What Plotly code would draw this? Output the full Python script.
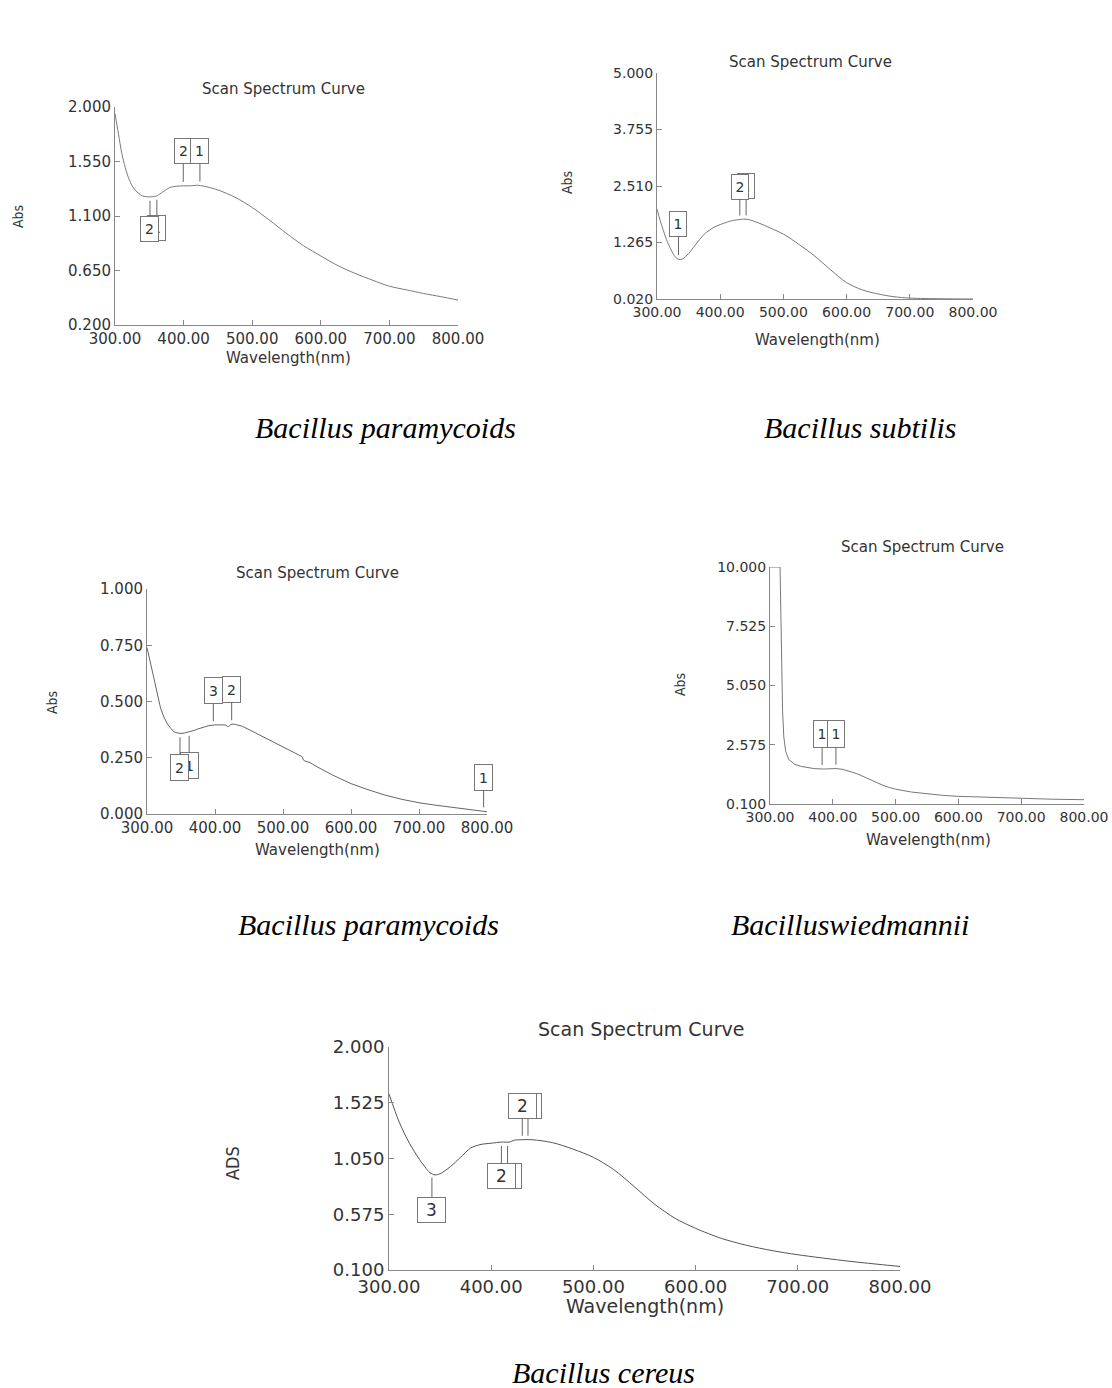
import numpy as np
import plotly.graph_objects as go

W, H = 1112, 1388

# ---------------- data ----------------
x_ticks = [300, 400, 500, 600, 700, 800]

# Panel 1 - Bacillus paramycoids (top-left)
p1_wl = [300, 305, 310, 315, 320, 325, 330, 340, 350, 360, 370, 380, 390, 400, 410, 420, 430, 450, 475,
         500, 525, 550, 575, 600, 625, 650, 675, 700, 725, 750, 775, 800]
p1_abs = [1.945, 1.78, 1.615, 1.50, 1.41, 1.35, 1.31, 1.266, 1.258, 1.264, 1.30, 1.335, 1.346, 1.349,
          1.349, 1.354, 1.346, 1.315, 1.255, 1.17, 1.066, 0.956, 0.854, 0.77, 0.69, 0.626, 0.571, 0.52,
          0.49, 0.46, 0.434, 0.406]
p1_yticks = [0.200, 0.650, 1.100, 1.550, 2.000]
p1_peak_wl = [399.5, 423.8, 361, 351]
p1_peak_lbl = ["2", "1", "1", "2"]

# Panel 2 - Bacillus subtilis
p2_wl = [300, 305, 310, 315, 320, 325, 330, 335, 340, 350, 360, 375, 390, 400, 410, 420, 430, 437, 445,
         460, 480, 500, 525, 550, 575, 600, 625, 650, 675, 700, 750, 800]
p2_abs = [2.00, 1.75, 1.53, 1.33, 1.17, 1.03, 0.93, 0.89, 0.90, 1.02, 1.20, 1.45, 1.60, 1.66, 1.71, 1.75,
          1.77, 1.78, 1.77, 1.70, 1.58, 1.45, 1.22, 0.96, 0.66, 0.38, 0.22, 0.13, 0.07, 0.04, 0.025, 0.02]
p2_yticks = [0.020, 1.265, 2.510, 3.755, 5.000]
p2_peak_wl = [334, 441, 431]
p2_peak_lbl = ["1", "1", "2"]

# Panel 3 - Bacillus paramycoids (middle-left)
p3_wl = [300, 305, 310, 315, 320, 325, 330, 335, 340, 345, 350, 355, 360, 365, 370, 375, 380, 390, 400,
         410, 415, 418, 420, 422, 425, 430, 440, 450, 460, 470, 480, 490, 500, 510, 520, 528, 530, 532,
         540, 550, 575, 600, 625, 650, 675, 700, 725, 750, 775, 800]
p3_abs = [0.74, 0.67, 0.61, 0.54, 0.47, 0.43, 0.40, 0.38, 0.365, 0.36, 0.358, 0.36, 0.363, 0.368, 0.372,
          0.378, 0.383, 0.392, 0.396, 0.397, 0.396, 0.39, 0.388, 0.395, 0.40, 0.398, 0.39, 0.375, 0.36,
          0.345, 0.33, 0.315, 0.30, 0.285, 0.27, 0.255, 0.24, 0.236, 0.228, 0.21, 0.17, 0.135, 0.108,
          0.084, 0.065, 0.05, 0.039, 0.03, 0.02, 0.01]
p3_yticks = [0.000, 0.250, 0.500, 0.750, 1.000]
p3_peak_wl = [397.5, 424.5, 362, 348.5, 795]
p3_peak_lbl = ["3", "2", "1", "2", "1"]

# Panel 4 - Bacilluswiedmannii
p4_wl = [300, 305, 310, 316, 318, 320, 322, 325, 330, 340, 350, 360, 370, 385, 395, 405, 415, 420, 430,
         440, 450, 460, 470, 480, 490, 500, 525, 550, 575, 600, 650, 700, 750, 800]
p4_abs = [10.0, 10.0, 10.0, 10.0, 7.0, 4.0, 2.9, 2.3, 1.95, 1.75, 1.67, 1.62, 1.58, 1.56, 1.57, 1.58, 1.55,
          1.52, 1.44, 1.35, 1.23, 1.10, 0.98, 0.88, 0.79, 0.72, 0.60, 0.52, 0.46, 0.42, 0.37, 0.33, 0.30,
          0.28]
p4_yticks = [0.100, 2.575, 5.050, 7.525, 10.000]
p4_peak_wl = [383, 405]
p4_peak_lbl = ["1", "1"]

# Panel 5 - Bacillus cereus
p5_wl = [300, 310, 320, 330, 340, 345, 350, 360, 370, 380, 390, 400, 410, 418, 422, 430, 440, 460, 480,
         500, 520, 540, 560, 580, 600, 625, 650, 675, 700, 750, 800]
p5_abs = [1.60, 1.36, 1.18, 1.04, 0.93, 0.91, 0.92, 0.98, 1.06, 1.14, 1.17, 1.18, 1.19, 1.19, 1.205,
          1.21, 1.21, 1.185, 1.13, 1.06, 0.955, 0.81, 0.66, 0.54, 0.455, 0.37, 0.31, 0.265, 0.23, 0.175,
          0.13]
p5_yticks = [0.100, 0.575, 1.050, 1.525, 2.000]
p5_peak_wl = [436, 430.4, 416, 410, 342]
p5_peak_lbl = ["1", "2", "1", "2", "3"]

captions = ["Bacillus paramycoids", "Bacillus subtilis", "Bacillus paramycoids",
            "Bacilluswiedmannii", "Bacillus cereus"]
y_titles = ["Abs", "Abs", "Abs", "Abs", "ADS"]

# ---------------- layout / styling ----------------
panels = [
    dict(wl=p1_wl, ab=p1_abs, yt=p1_yticks, pk=p1_peak_wl, pl=p1_peak_lbl,
         box=(115, 458, 107, 325), fs=15, tfs=15, bw=17, bh=24, bfs=14,
         ay=[-35, -35, 32, 32], title=(283, 89), xlab=(288, 358), ylab=(18, 217), cap=(385, 427),
         lc="#7a7a7a", lw=1.0, shape="spline"),
    dict(wl=p2_wl, ab=p2_abs, yt=p2_yticks, pk=p2_peak_wl, pl=p2_peak_lbl,
         box=(657, 973, 73, 299), fs=14, tfs=15, bw=16, bh=24, bfs=14,
         ay=[-35, -33, -33], title=(810, 62), xlab=(817, 340), ylab=(567, 183), cap=(860, 427),
         lc="#777", lw=1.0, shape="spline"),
    dict(wl=p3_wl, ab=p3_abs, yt=p3_yticks, pk=p3_peak_wl, pl=p3_peak_lbl,
         box=(147, 487, 589, 814), fs=15, tfs=15, bw=17, bh=25, bfs=14,
         ay=[-35, -35, 34, 34, -34], title=(317, 573), xlab=(317, 850), ylab=(52, 703), cap=(368, 924),
         lc="#666", lw=1.0, shape="linear"),
    dict(wl=p4_wl, ab=p4_abs, yt=p4_yticks, pk=p4_peak_wl, pl=p4_peak_lbl,
         box=(770, 1084, 567, 804), fs=14, tfs=15, bw=16, bh=26, bfs=14,
         ay=[-35, -35], title=(923, 547), xlab=(928, 840), ylab=(680, 685), cap=(850, 924),
         lc="#777", lw=1.0, shape="linear"),
    dict(wl=p5_wl, ab=p5_abs, yt=p5_yticks, pk=p5_peak_wl, pl=p5_peak_lbl,
         box=(389, 900, 1047, 1270), fs=18, tfs=19, bw=27, bh=24, bfs=17,
         ay=[-34, -34, 34, 34, 36], title=(641, 1029), xlab=(645, 1306), ylab=(232, 1163), cap=(603, 1372),
         lc="#555", lw=1.0, shape="spline"),
]

FONT = "DejaVu Sans"
TXT = "#333333"
AX = "#888888"

fig = go.Figure()
annotations = []
layout = dict(width=W, height=H, margin=dict(l=0, r=0, t=0, b=0, autoexpand=False),
              paper_bgcolor="white", plot_bgcolor="white", showlegend=False)

def px(x):
    return x / W

def py(y):
    return 1 - y / H

for i, p in enumerate(panels, start=1):
    xa = "x" if i == 1 else f"x{i}"
    ya = "y" if i == 1 else f"y{i}"
    x0, x1, y0, y1 = p["box"]
    line = dict(color=p["lc"], width=p["lw"], shape=p["shape"])
    if p["shape"] == "spline":
        line["smoothing"] = 0.8
    fig.add_trace(go.Scatter(x=p["wl"], y=p["ab"], mode="lines", xaxis=xa, yaxis=ya,
                             line=line, hoverinfo="skip"))
    ymin, ymax = min(p["yt"]), max(p["yt"])
    common = dict(showline=True, linecolor=AX, linewidth=1, showgrid=False, zeroline=False,
                  automargin=False, ticks="inside", ticklen=5, tickcolor=AX,
                  tickfont=dict(family=FONT, size=p["fs"], color=TXT))
    layout["xaxis" if i == 1 else f"xaxis{i}"] = dict(
        domain=[px(x0), px(x1)], anchor=ya, range=[300, 800], tickvals=x_ticks,
        ticktext=[f"{v:.2f}" for v in x_ticks], **common)
    layout["yaxis" if i == 1 else f"yaxis{i}"] = dict(
        domain=[py(y1), py(y0)], anchor=xa, range=[ymin, ymax], tickvals=p["yt"],
        ticktext=[f"{v:.3f}" for v in p["yt"]], **common)

    # titles
    annotations.append(dict(text="Scan Spectrum Curve", x=px(p["title"][0]), y=py(p["title"][1]),
                            xref="paper", yref="paper", showarrow=False, xanchor="center", yanchor="middle",
                            font=dict(family=FONT, size=p["tfs"], color=TXT)))
    annotations.append(dict(text="Wavelength(nm)", x=px(p["xlab"][0]), y=py(p["xlab"][1]),
                            xref="paper", yref="paper", showarrow=False, xanchor="center", yanchor="middle",
                            font=dict(family=FONT, size=p["tfs"], color=TXT)))
    annotations.append(dict(text=y_titles[i - 1], x=px(p["ylab"][0]), y=py(p["ylab"][1]),
                            xref="paper", yref="paper", showarrow=False, xanchor="center", yanchor="middle",
                            textangle=-90,
                            font=dict(family="DejaVu Sans Condensed, " + FONT, size=p["tfs"] - 1, color=TXT)))
    annotations.append(dict(text=captions[i - 1], x=px(p["cap"][0]), y=py(p["cap"][1]),
                            xref="paper", yref="paper", showarrow=False, xanchor="center", yanchor="middle",
                            font=dict(family="Liberation Serif", size=30, color="black", style="italic")))

    # peak markers
    for wl, lbl, ay in zip(p["pk"], p["pl"], p["ay"]):
        yv = float(np.interp(wl, p["wl"], p["ab"]))
        annotations.append(dict(text=lbl, x=wl, y=yv, xref=xa, yref=ya, showarrow=True,
                                arrowhead=0, arrowwidth=1, arrowcolor="#666", ax=0, ay=ay, standoff=4,
                                width=p["bw"], height=p["bh"], borderpad=0, bordercolor="#777",
                                borderwidth=1, bgcolor="white", align="center", valign="middle",
                                font=dict(family=FONT, size=p["bfs"], color=TXT)))

layout["annotations"] = annotations
fig.update_layout(**layout)
fig.write_html("out.html")
